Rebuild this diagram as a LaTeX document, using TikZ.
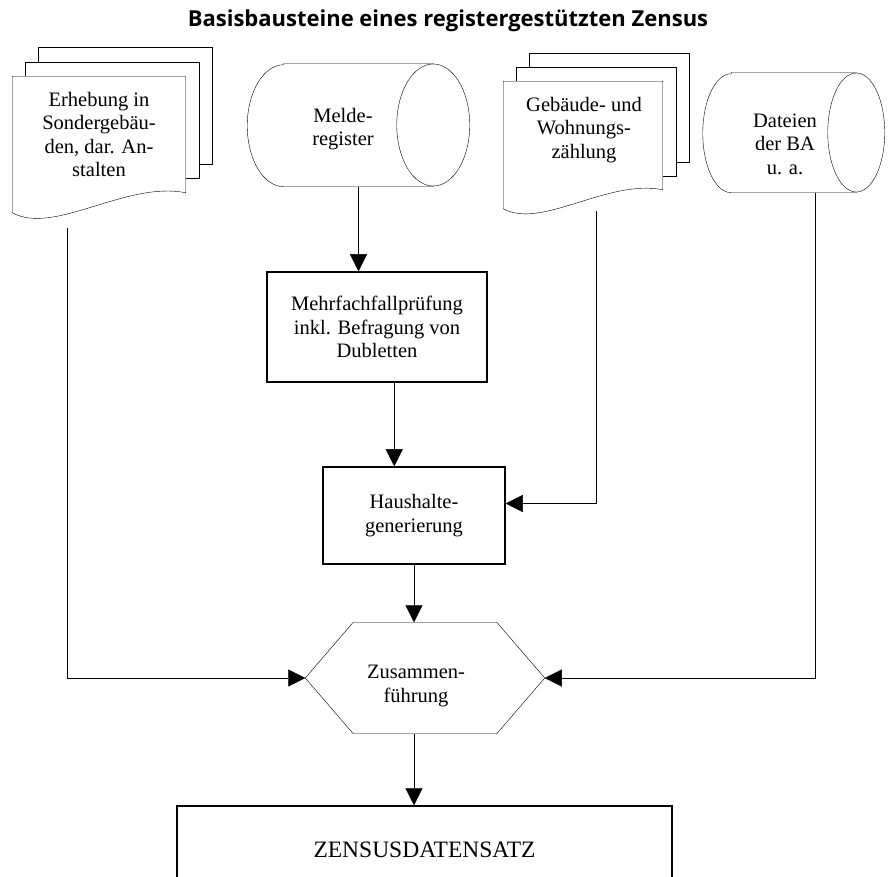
\documentclass[tikz,border=0pt]{standalone}
\usepackage{fontspec}
\setmainfont{Liberation Serif}
\newfontfamily\titelfont{Open Sans}
\usepackage{tikz}
\usetikzlibrary{arrows.meta,positioning,calc}
\pgfdeclarelayer{bg}
\pgfsetlayers{bg,main}

\begin{document}
\begin{tikzpicture}[
			x = 1pt, y = -1pt,
			line width = 1.5pt,
			every node/.style = {font = \fontsize{20.5}{23.5}\selectfont, align = center, inner sep = 0pt},
			kasten/.style = {draw, minimum width = #1},
			pfeil/.style = {-{Triangle[length=17pt,width=17pt]}},
			blatt/.style = {draw, fill = white}]

			\useasboundingbox (0,0) rectangle (895,877);
			\clip (0,0) rectangle (895,877);

			\node[font = \titelfont\bfseries\fontsize{22}{26}\selectfont] (titel) at (448,21) {Basisbausteine eines registergestützten Zensus};

			\node[minimum width = 172pt, minimum height = 115pt] (erh) at (99,134.5) {Erhebung in\\Sondergebäu-\\den, dar. An-\\stalten};
			\node[minimum width = 221pt, minimum height = 122pt] (melde) at (358.5,125) {};
			\node (meldetext) at (343,129) {Melde-\\register};
			\node[minimum width = 158pt, minimum height = 107pt] (geb) at (583,135.5) {};
			\node (gebtext) at (584,130) {Gebäude- und\\Wohnungs-\\zählung};
			\node[minimum width = 180.5pt, minimum height = 119pt] (dat) at (793.75,132.5) {};
			\node (dattext) at (785,144) {Dateien\\der BA\\u. a.};

			\node[kasten = 220pt, minimum height = 110pt] (mehr) at (377,327) {Mehrfachfallprüfung\\inkl. Befragung von\\Dubletten};
			\node[kasten = 182pt, minimum height = 97pt] (haus) at (414,515.5) {Haushalte-\\generierung};
			\node[minimum width = 238pt, minimum height = 110pt] (zus) at (425,678) {};
			\node (zustext) at (416,686) {Zusammen-\\führung};
			\node[kasten = 495pt, minimum height = 88pt, font = \fontsize{23.5}{27}\selectfont] (zen) at (424.5,850) {ZENSUSDATENSATZ};

			\begin{pgfonlayer}{bg}
				\foreach \k in {2,1} {
					\draw[blatt] ([shift={(13*\k,-14.5*\k)}]erh.north west) rectangle ([shift={(13*\k,-14.5*\k)}]erh.south east);
					\draw[blatt] ([shift={(13*\k,-14*\k)}]geb.north west) rectangle ([shift={(13*\k,-14*\k)}]geb.south east);
				}
				\draw[blatt] (erh.south east) -- (erh.north east) -- (erh.north west) -- ([shift={(0,20)}]erh.south west) .. controls +(42,23) and +(-60,-12) .. (erh.south east) -- cycle;
				\draw[blatt] (geb.south east) -- (geb.north east) -- (geb.north west) -- ([shift={(0,19)}]geb.south west) .. controls +(38,21) and +(-55,-11) .. (geb.south east) -- cycle;

				\draw[blatt] ([shift={(36.5,0)}]melde.north west) -- ([shift={(-36.5,0)}]melde.north east) -- ([shift={(-36.5,0)}]melde.south east) -- ([shift={(36.5,0)}]melde.south west) arc[start angle=270, end angle=90, x radius=36.5pt, y radius=61pt] -- cycle;
				\draw[blatt] ([shift={(-36.5,0)}]melde.east) ellipse [x radius=36.5pt, y radius=61pt];
				\draw[blatt] ([shift={(28.5,0)}]dat.north west) -- ([shift={(-28.5,0)}]dat.north east) -- ([shift={(-28.5,0)}]dat.south east) -- ([shift={(28.5,0)}]dat.south west) arc[start angle=270, end angle=90, x radius=28.5pt, y radius=59.5pt] -- cycle;
				\draw[blatt] ([shift={(-28.5,0)}]dat.east) ellipse [x radius=28.5pt, y radius=59.5pt];
			\end{pgfonlayer}

			\draw (zus.west) -- ([shift={(48,0)}]zus.north west) -- ([shift={(-48,0)}]zus.north east) -- (zus.east) -- ([shift={(-48,0)}]zus.south east) -- ([shift={(48,0)}]zus.south west) -- cycle;

			\coordinate (hausein) at ([shift={(72,0)}]haus.north west);
			\coordinate (gebaus) at ([shift={(13,21)}]geb.south);
			\coordinate (erhaus) at ([shift={(-32,35)}]erh.south);
			\coordinate (dataus) at ([shift={(21.25,0)}]dat.south);

			\draw[pfeil] (melde.south) -- (melde.south |- mehr.north);
			\draw[pfeil] (mehr.south -| hausein) -- (hausein);
			\draw[pfeil] (gebaus) |- ([shift={(0,-12)}]haus.east);
			\draw[pfeil] (haus.south) -- (haus.south |- zus.north);
			\draw[pfeil] (erhaus) |- (zus.west);
			\draw[pfeil] (dataus) |- (zus.east);
			\draw[pfeil] (haus.south |- zus.south) -- (haus.south |- zen.north);

		\end{tikzpicture}
\end{document}
